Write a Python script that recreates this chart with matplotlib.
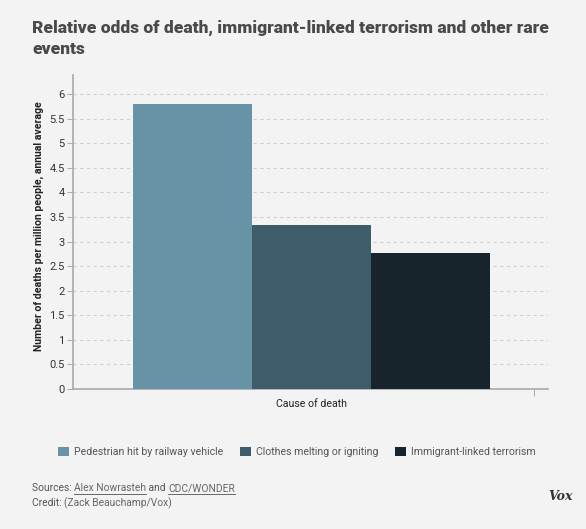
import matplotlib
matplotlib.use("Agg")
import matplotlib.pyplot as plt
import numpy as np

# Data
causes = ['Pedestrian hit by railway vehicle', 'Clothes melting or igniting',
          'Immigrant-linked terrorism']
deaths_per_million = [5.80, 3.34, 2.77]
colors = ['#6793a6', '#3f5c6a', '#18242b']
y_ticks = np.arange(0, 6.01, 0.5)
y_tick_labels = ['0', '0.5', '1', '1.5', '2', '2.5', '3', '3.5', '4', '4.5', '5', '5.5', '6']

bg = '#f2f3f2'
plt.rcParams['font.family'] = ['Roboto', 'DejaVu Sans']

fig = plt.figure(figsize=(5.86, 5.29), dpi=100, facecolor=bg)
ax = fig.add_axes([73/586, 1 - 389/529, 475/586, 314/529])
ax.set_facecolor(bg)

# Bars side by side within the single category
x_pos = np.arange(len(causes))
for x, v, c, lab in zip(x_pos, deaths_per_million, colors, causes):
    ax.bar(x, v, width=1.0, color=c, label=lab, zorder=3)

ax.set_xlim(-1.005, 2.985)
ax.set_ylim(0, 6.39)
ax.set_yticks(y_ticks)
ax.set_yticklabels(y_tick_labels)
ax.tick_params(axis='y', length=4, width=0.8, color='#b0b0b0', labelsize=8,
               labelcolor='#333333', pad=2)
ax.set_xticks([2.87])
ax.set_xticklabels([''])
ax.tick_params(axis='x', length=5, width=0.8, color='#b0b0b0')
ax.grid(axis='y', linestyle=(0, (3, 3)), color='#cfcfcf', linewidth=0.8, zorder=0)

for side in ['top', 'right']:
    ax.spines[side].set_visible(False)
for side in ['left', 'bottom']:
    ax.spines[side].set_color('#a8a8a8')
    ax.spines[side].set_linewidth(1.2)

ax.set_ylabel('Number of deaths per million people, annual average', fontsize=7.6,
              fontweight='bold', color='#222222')
ax.yaxis.set_label_coords(-0.061, 0.52)
fig.text(312/586, 1 - 404/529, 'Cause of death', ha='center', va='center',
         fontsize=7.6, color='#222222')

# Title
for i, line in enumerate(['Relative odds of death, immigrant-linked terrorism and other rare',
                          'events']):
    fig.text(32/586, 1 - (28 + 21 * i)/529, line, fontsize=12.5, fontweight='black',
             color='#4a4a4a', va='center', ha='left')

# Legend
handles, labels = ax.get_legend_handles_labels()
leg = fig.legend(handles, labels, loc='center', bbox_to_anchor=(297/586, 1 - 452/529),
                 ncol=3, frameon=False, fontsize=7.6, handlelength=1.0, handleheight=1.0,
                 handletextpad=0.5, columnspacing=1.6, labelcolor='#555555')

# Sources and credit, placed piece by piece
renderer = fig.canvas.get_renderer()


def text_run(pieces, y):
    xpix = 32
    for s, col, underline in pieces:
        t = fig.text(xpix/586, 1 - y/529, s, fontsize=7.4, color=col, va='center')
        bb = t.get_window_extent(renderer)
        if underline:
            fig.lines.append(plt.Line2D([xpix/586, (xpix + bb.width)/586], [1 - (y + 6)/529] * 2,
                                        transform=fig.transFigure, color='#666666',
                                        linewidth=0.7))
        xpix += bb.width


text_run([('Sources: ', '#555555', False), ('Alex Nowrasteh', '#666666', True),
          (' and ', '#555555', False), ('CDC/WONDER', '#666666', True)], 488)
text_run([('Credit: ', '#555555', False), ('(Zack Beauchamp/Vox)', '#666666', False)], 503)

fig.text(573/586, 1 - 497/529, 'Vox', fontsize=9, fontweight='bold', fontstyle='italic',
         family='DejaVu Serif', color='#333333', ha='right', va='center')

fig.savefig('out.png', dpi=100, facecolor=bg)
